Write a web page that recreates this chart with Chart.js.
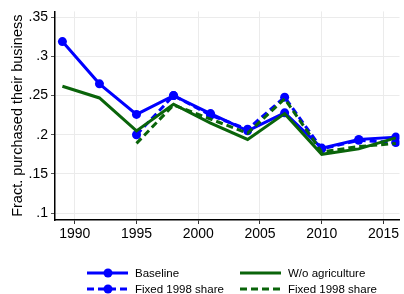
<!DOCTYPE html>
<html>
<head>
<meta charset="utf-8">
<script src="https://cdn.jsdelivr.net/npm/chart.js@4"></script>
<style>
  html, body { margin: 0; padding: 0; background: #fff; }
  #wrap { width: 404px; height: 294px; position: relative; }
</style>
</head>
<body>
<div id="wrap"><canvas id="chart1" width="404" height="294"></canvas></div>
<script>
// survey years
var years = [1989, 1992, 1995, 1998, 2001, 2004, 2007, 2010, 2013, 2016];

// fraction that purchased their business
var baseline     = [0.319, 0.265, 0.226, 0.250, 0.227, 0.205, 0.228, 0.183, 0.194, 0.197];
var fixedBase    = [null,  null,  0.200, 0.250, 0.225, 0.207, 0.248, 0.182, 0.193, 0.190];
var woAgri       = [0.262, 0.247, 0.205, 0.239, 0.215, 0.194, 0.227, 0.175, 0.182, 0.196];
var fixedWoAgri  = [null,  null,  0.189, 0.238, 0.220, 0.202, 0.246, 0.178, 0.185, 0.189];

var xTicks = [1990, 1995, 2000, 2005, 2010, 2015];
var yTicks = [0.1, 0.15, 0.2, 0.25, 0.3, 0.35];

var blue = '#0000ff';
var green = '#0a640a';

function pts(vals) {
  var out = [];
  for (var i = 0; i < years.length; i++) {
    out.push({x: years[i], y: vals[i]});
  }
  return out;
}

// legend drawn under the axis
var legendPlugin = {
  id: 'legendBelow',
  afterDraw: function(chart) {
    var ctx = chart.ctx;
    var items = [
      {text: 'Baseline', color: blue, dash: [], marker: true, x: 87, y: 273},
      {text: 'Fixed 1998 share', color: blue, dash: [7, 4], marker: true, x: 87, y: 289},
      {text: 'W/o agriculture', color: green, dash: [], marker: false, x: 240, y: 273},
      {text: 'Fixed 1998 share', color: green, dash: [7, 4], marker: false, x: 240, y: 289}
    ];
    ctx.save();
    items.forEach(function(it) {
      ctx.strokeStyle = it.color;
      ctx.lineWidth = 3;
      ctx.setLineDash(it.dash);
      ctx.beginPath();
      ctx.moveTo(it.x, it.y);
      ctx.lineTo(it.x + 41, it.y);
      ctx.stroke();
      ctx.setLineDash([]);
      if (it.marker) {
        ctx.fillStyle = it.color;
        ctx.beginPath();
        ctx.arc(it.x + 21, it.y, 4.5, 0, Math.PI * 2);
        ctx.fill();
      }
      ctx.fillStyle = '#000';
      ctx.font = '11.5px "Liberation Sans", Arial, sans-serif';
      ctx.textBaseline = 'middle';
      ctx.textAlign = 'left';
      ctx.fillText(it.text, it.x + 48, it.y + 1);
    });
    ctx.restore();
  }
};

const ctx1 = document.getElementById('chart1').getContext('2d');
const chart1 = new Chart(ctx1, {
  type: 'line',
  data: {
    datasets: [
      {
        label: 'Baseline',
        data: pts(baseline),
        borderColor: blue,
        backgroundColor: blue,
        borderWidth: 3,
        pointRadius: 4.5,
        pointBorderWidth: 0,
        order: 4
      },
      {
        label: 'Fixed 1998 share',
        data: pts(fixedBase),
        borderColor: blue,
        backgroundColor: blue,
        borderWidth: 3,
        borderDash: [7, 4],
        pointRadius: 4.5,
        pointBorderWidth: 0,
        order: 3
      },
      {
        label: 'W/o agriculture',
        data: pts(woAgri),
        borderColor: green,
        backgroundColor: green,
        borderWidth: 3,
        pointRadius: 0,
        order: 2
      },
      {
        label: 'Fixed 1998 share',
        data: pts(fixedWoAgri),
        borderColor: green,
        backgroundColor: green,
        borderWidth: 3,
        borderDash: [7, 4],
        pointRadius: 0,
        order: 1
      }
    ]
  },
  options: {
    responsive: false,
    animation: false,
    devicePixelRatio: 1,
    layout: { padding: { top: 7, right: 0, left: 0, bottom: 0 } },
    plugins: {
      legend: { display: false },
      tooltip: { enabled: false }
    },
    elements: { line: { tension: 0 } },
    scales: {
      x: {
        type: 'linear',
        min: 1988.4,
        max: 2016.3,
        afterBuildTicks: function(scale) {
          scale.ticks = xTicks.map(function(v) { return {value: v}; });
        },
        afterFit: function(scale) { scale.height = 74; },
        grid: { color: '#ebebeb', lineWidth: 1, tickColor: '#333', tickLength: 4 },
        border: { color: '#000', width: 1.5 },
        ticks: {
          color: '#000',
          padding: 2,
          maxRotation: 0,
          font: { family: '"Liberation Sans", Arial, sans-serif', size: 14 },
          callback: function(v) { return String(v); }
        }
      },
      y: {
        min: 0.0912,
        max: 0.3575,
        afterBuildTicks: function(scale) {
          scale.ticks = yTicks.map(function(v) { return {value: v}; });
        },
        afterFit: function(scale) { scale.width = 55; },
        grid: { color: '#ebebeb', lineWidth: 1, tickColor: '#555', tickLength: 4 },
        border: { color: '#000', width: 1.5 },
        title: {
          display: true,
          text: 'Fract. purchased their business',
          color: '#000',
          padding: { top: 9, bottom: 0 },
          font: { family: '"Liberation Sans", Arial, sans-serif', size: 14.5 }
        },
        ticks: {
          color: '#000',
          padding: 3,
          font: { family: '"Liberation Sans", Arial, sans-serif', size: 14 },
          callback: function(v) {
            return String(Math.round(v * 100) / 100).replace(/^0/, '');
          }
        }
      }
    }
  },
  plugins: [legendPlugin]
});
</script>
</body>
</html>
